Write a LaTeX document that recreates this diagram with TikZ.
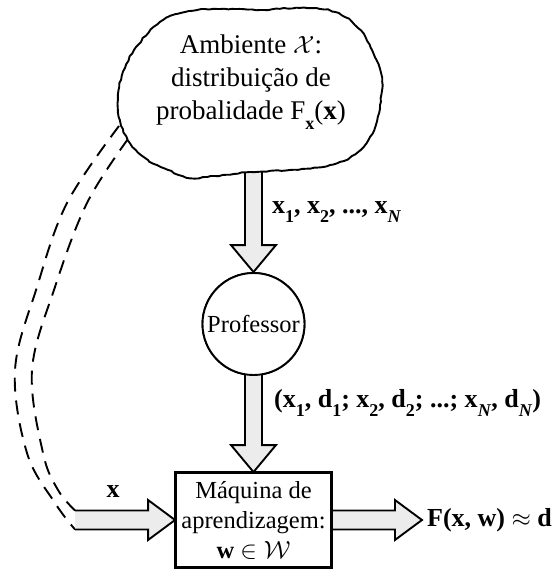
\documentclass[tikz,border=0pt]{standalone}
\usepackage{fontspec}
\setmainfont{Liberation Serif}
\usetikzlibrary{calc,decorations.pathmorphing}
\newcommand\sbs[1]{\raisebox{-0.35em}{\fontsize{18}{18}\selectfont #1}}
\newcommand\vblk[2]{%
  \filldraw[blk] ($(#1)+(-8.5,0)$) -- ($(#2)+(-8.5,-27)$) -- ($(#2)+(-22.5,-27)$) -- (#2)
    -- ($(#2)+(22.5,-27)$) -- ($(#2)+(8.5,-27)$) -- ($(#1)+(8.5,0)$) -- cycle;}
\newcommand\hblk[2]{%
  \filldraw[blk] ($(#1)+(0,-9.5)$) -- ($(#2)+(-27,-9.5)$) -- ($(#2)+(-27,-20)$) -- (#2)
    -- ($(#2)+(-27,20)$) -- ($(#2)+(-27,9.5)$) -- ($(#1)+(0,9.5)$) -- cycle;}
\tikzset{
  lw/.style={line width=1.9pt},
  blk/.style={draw=black, fill=gray!15, lw, line join=miter},
  lbl/.style={font=\fontsize{26}{30}\selectfont\bfseries, inner sep=2pt},
  dsh/.style={draw=black, lw, dash pattern=on 14pt off 9pt},
}
\begin{document}
\begin{tikzpicture}[x=1pt,y=-1pt]
\useasboundingbox (0,0) rectangle (557,569);
% nodes
\node[circle, draw, lw, fill=white, minimum size=102pt, inner sep=0pt,
  font=\fontsize{24.5}{28}\selectfont] (prof) at (253.5,324) {Professor};
\node[rectangle, draw, lw, fill=white, minimum width=155pt, minimum height=94pt,
  inner sep=0pt, align=center, font=\fontsize{24.5}{30}\selectfont] (mach) at (253.5,520)
  {Máquina de\\aprendizagem:\\\textbf{w} $\in\mathcal{W}$};
% coordinates
\coordinate (c1) at (253.5,165);
\coordinate (a2s) at ($(prof.south)+(0,-10)$);
\coordinate (outtip) at ($(mach.east)+(90,0)$);
\coordinate (inL) at ($(mach.west)+(-100,0)$);
\coordinate (inTop) at ($(inL)+(0,-9.5)$);
\coordinate (inBot) at ($(inL)+(0,9.5)$);
\coordinate (cloudA) at (119,126);
\coordinate (cloudB) at (128,139);
% dashed return path
\draw[dsh] plot[smooth, tension=0.6] coordinates {(cloudA) (67,203) (37,287) (15,370) (27,453) (55,503) (inBot)};
\draw[dsh] plot[smooth, tension=0.6] coordinates {(cloudB) (87,203) (55,287) (32,370) (43,453) (58,490) (inTop)};
% block arrows
\vblk{c1}{prof.north}
\vblk{a2s}{mach.north}
\hblk{mach.east}{outtip}
\fill[gray!15] (inTop) -- ($(mach.west)+(-27,-9.5)$) -- ($(mach.west)+(-27,-20)$) -- (mach.west)
    -- ($(mach.west)+(-27,20)$) -- ($(mach.west)+(-27,9.5)$) -- (inBot) -- cycle;
\draw[lw, line join=miter] (inTop) -- ($(mach.west)+(-27,-9.5)$) -- ($(mach.west)+(-27,-20)$) -- (mach.west)
    -- ($(mach.west)+(-27,20)$) -- ($(mach.west)+(-27,9.5)$) -- (inBot);
% redraw nodes on top
\node[circle, draw, lw, fill=white, minimum size=102pt, inner sep=0pt,
  font=\fontsize{24.5}{28}\selectfont] at (prof) {Professor};
\draw[lw] (mach.north west) rectangle (mach.south east);
% cloud
\pgfmathsetseed{7}
\draw[lw, fill=white, decorate, decoration={random steps, segment length=4pt, amplitude=0.6pt}]
  plot[smooth cycle, tension=0.7] coordinates {(160,22) (185,12) (220,9) (260,10) (300,8) (335,12) (358,28) (372,50) (382,78) (380,105) (374,130) (358,152) (330,165) (290,170) (250,172) (215,176) (190,178) (168,170) (148,160) (130,143) (120,120) (118,95) (125,68) (138,45)};
\node[align=center, font=\fontsize{27}{33}\selectfont] (env) at (251,82)
  {Ambiente $\mathcal{X}$:\\distribuição de\\probalidade F\sbs{\textbf{x}}(\textbf{x})};
% labels
\node[lbl, anchor=west] (l1) at (270,212) {x\sbs{1}, x\sbs{2}, ..., x\sbs{\textit{N}}};
\node[lbl, anchor=west] (l2) at (272,403) {(x\sbs{1}, d\sbs{1}; x\sbs{2}, d\sbs{2}; ...; x\sbs{\textit{N}}, d\sbs{\textit{N}})};
\node[lbl] (lx) at (113,492) {x};
\node[lbl, anchor=west] (lout) at ($(outtip)+(3,0)$) {F(x, w) $\approx$ d};
\end{tikzpicture}
\end{document}
